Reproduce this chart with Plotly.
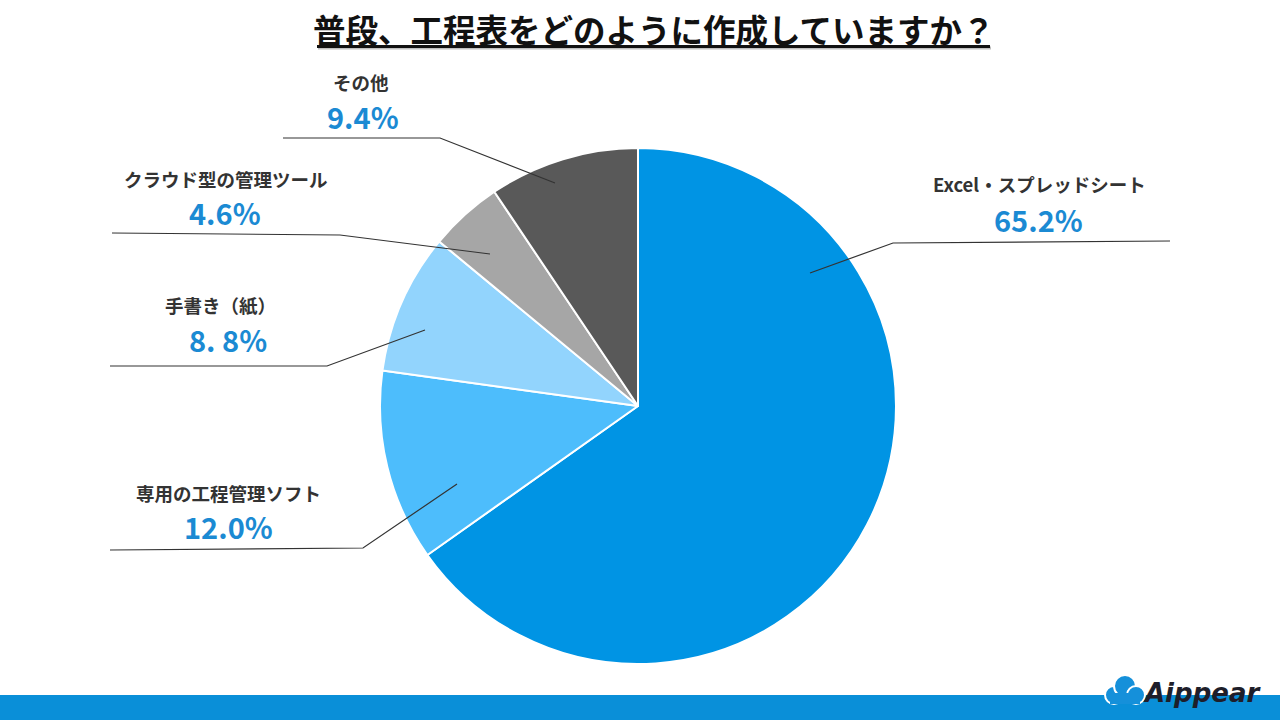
import plotly.graph_objects as go

W, H = 1280, 720

# ---- data ----
categories = ["Excel・スプレッドシート", "専用の工程管理ソフト", "手書き（紙）", "クラウド型の管理ツール", "その他"]
values = [65.2, 12.0, 8.8, 4.6, 9.4]
pct_labels = ["65.2%", "12.0%", "8. 8%", "4.6%", "9.4%"]
colors = ["#0094E4", "#4DBDFC", "#92D4FD", "#A6A6A6", "#595959"]
title_text = "普段、工程表をどのように作成していますか？"

# ---- layout helpers (pixel -> paper) ----
def px(x):
    return x / W

def py(y):
    return 1 - y / H

cx, cy, r = 638, 406, 258

fig = go.Figure(go.Pie(
    labels=categories,
    values=values,
    sort=False,
    direction="clockwise",
    rotation=0,
    marker=dict(colors=colors, line=dict(color="white", width=2)),
    textinfo="none",
    hoverinfo="label+percent",
    showlegend=False,
    domain=dict(x=[px(cx - r), px(cx + r)], y=[py(cy + r), py(cy - r)]),
))

# label placement (name center, pct center) and leader polylines in pixels
label_pos = [
    ((1039, 184), (1038, 219)),
    ((228, 493), (228, 526)),
    ((220, 305), (228, 339)),
    ((226, 179), (225, 212)),
    ((361, 82), (363, 116)),
]
leaders = [
    [(810, 273), (893, 243), (1170, 241)],
    [(457, 484), (363, 548), (110, 550)],
    [(425, 330), (327, 366), (110, 366)],
    [(490, 254), (340, 235), (112, 233)],
    [(555, 183), (440, 138), (283, 138)],
]

FONT = "Noto Sans CJK JP"
annotations = []
shapes = []

for cat, pct, (npos, ppos), pts in zip(categories, pct_labels, label_pos, leaders):
    annotations.append(dict(
        x=px(npos[0]), y=py(npos[1]), xref="paper", yref="paper",
        text=f"<b>{cat}</b>", showarrow=False, xanchor="center", yanchor="middle",
        font=dict(family=FONT, size=18.5, color="#333333")))
    annotations.append(dict(
        x=px(ppos[0]), y=py(ppos[1]), xref="paper", yref="paper",
        text=f"<b>{pct}</b>", showarrow=False, xanchor="center", yanchor="middle",
        font=dict(family=FONT, size=29, color="#1B8AD3")))
    path = "M " + " L ".join(f"{px(x):.5f},{py(y):.5f}" for x, y in pts)
    shapes.append(dict(type="path", xref="paper", yref="paper", path=path,
                       line=dict(color="#333333", width=1.2)))

# title with underline
annotations.append(dict(
    x=px(654), y=py(29), xref="paper", yref="paper", text=f"<b>{title_text}</b>",
    showarrow=False, xanchor="center", yanchor="middle",
    font=dict(family=FONT, size=32.5, color="#111111")))
shapes.append(dict(type="line", xref="paper", yref="paper",
                   x0=px(318), x1=px(991), y0=py(48), y1=py(48),
                   line=dict(color="rgba(0,0,0,0.25)", width=3)))
shapes.append(dict(type="line", xref="paper", yref="paper",
                   x0=px(317), x1=px(990), y0=py(46.5), y1=py(46.5),
                   line=dict(color="#111111", width=3)))

# bottom band
shapes.append(dict(type="rect", xref="paper", yref="paper",
                   x0=0, x1=1, y0=0, y1=py(695),
                   line=dict(width=0), fillcolor="#0A8FD8", layer="below"))

# logo: cloud + text
for (ox, oy, rr) in [(1114, 695, 9), (1125, 686, 11), (1136, 695, 9)]:
    shapes.append(dict(type="circle", xref="paper", yref="paper",
                       x0=px(ox - rr), x1=px(ox + rr), y0=py(oy + rr), y1=py(oy - rr),
                       fillcolor="#1590DA", line=dict(color="white", width=2)))
shapes.append(dict(type="rect", xref="paper", yref="paper",
                   x0=px(1110), x1=px(1140), y0=py(704), y1=py(693),
                   fillcolor="#1590DA", line=dict(width=0)))
annotations.append(dict(
    x=px(1202), y=py(693), xref="paper", yref="paper", text="<b><i>Aippear</i></b>",
    showarrow=False, xanchor="center", yanchor="middle",
    font=dict(family="DejaVu Sans", size=26, color="#1E1E2A")))

fig.update_layout(
    width=W, height=H,
    margin=dict(l=0, r=0, t=0, b=0),
    paper_bgcolor="white", plot_bgcolor="white",
    annotations=annotations, shapes=shapes,
)

fig.write_html("out.html")
